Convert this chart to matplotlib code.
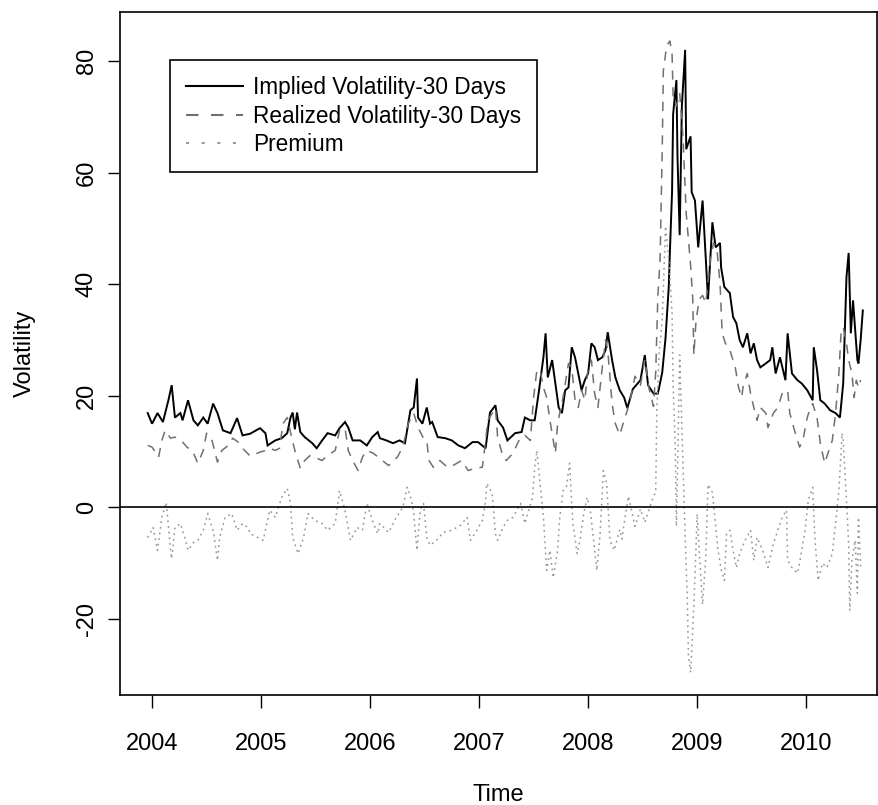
import matplotlib
matplotlib.use("Agg")
import matplotlib.pyplot as plt
from matplotlib.lines import Line2D

plt.rcParams['font.family'] = ['Liberation Sans', 'DejaVu Sans']

# implied volatility (30 days)
iv_t = [2003.96, 2004.00, 2004.05, 2004.10, 2004.15, 2004.18, 2004.21, 2004.26, 2004.28, 2004.33,
        2004.38, 2004.42, 2004.47, 2004.51, 2004.56, 2004.60, 2004.65, 2004.72, 2004.78, 2004.83,
        2004.90, 2004.99, 2005.04, 2005.06, 2005.13, 2005.19, 2005.24, 2005.27, 2005.29, 2005.31,
        2005.33, 2005.36, 2005.40, 2005.47, 2005.51, 2005.56, 2005.61, 2005.68, 2005.72, 2005.77,
        2005.80, 2005.84, 2005.91, 2005.97, 2006.02, 2006.07, 2006.09, 2006.15, 2006.21, 2006.27,
        2006.32, 2006.37, 2006.40, 2006.43, 2006.44, 2006.48, 2006.52, 2006.55, 2006.57, 2006.62,
        2006.69, 2006.75, 2006.81, 2006.87, 2006.94, 2006.99, 2007.06, 2007.10, 2007.15, 2007.17,
        2007.22, 2007.26, 2007.33, 2007.39, 2007.42, 2007.47, 2007.51, 2007.55, 2007.59, 2007.61,
        2007.63, 2007.67, 2007.70, 2007.73, 2007.76, 2007.79, 2007.82, 2007.85, 2007.88, 2007.91,
        2007.94, 2007.97, 2008.00, 2008.03, 2008.06, 2008.09, 2008.13, 2008.16, 2008.18, 2008.22,
        2008.25, 2008.29, 2008.33, 2008.36, 2008.41, 2008.48, 2008.52, 2008.55, 2008.60, 2008.64,
        2008.68, 2008.71, 2008.74, 2008.75, 2008.77, 2008.78, 2008.81, 2008.82, 2008.84, 2008.86,
        2008.89, 2008.90, 2008.94, 2008.95, 2008.98, 2009.01, 2009.05, 2009.08, 2009.10, 2009.14,
        2009.17, 2009.21, 2009.22, 2009.25, 2009.30, 2009.33, 2009.36, 2009.39, 2009.42, 2009.46,
        2009.49, 2009.52, 2009.55, 2009.58, 2009.63, 2009.67, 2009.69, 2009.72, 2009.76, 2009.81,
        2009.83, 2009.87, 2009.92, 2009.96, 2010.01, 2010.06, 2010.07, 2010.10, 2010.13, 2010.17,
        2010.22, 2010.27, 2010.31, 2010.34, 2010.36, 2010.37, 2010.39, 2010.41, 2010.43, 2010.47,
        2010.48, 2010.50, 2010.52]
iv = [16.9, 15.0, 16.9, 15.3, 19.2, 21.9, 16.1, 16.9, 15.6, 19.2,
      15.6, 14.7, 16.1, 15.0, 18.6, 16.9, 13.8, 13.3, 16.0, 12.9,
      13.2, 14.2, 13.3, 11.1, 12.0, 12.4, 13.3, 16.1, 17.0, 14.0,
      17.0, 13.5, 12.6, 11.5, 10.6, 12.0, 13.3, 12.9, 14.2, 15.3,
      14.3, 12.0, 12.0, 11.1, 12.6, 13.5, 12.4, 12.0, 11.5, 12.0,
      11.5, 17.4, 17.9, 23.1, 16.1, 15.0, 17.9, 15.0, 15.3, 12.6,
      12.4, 12.0, 11.1, 10.6, 11.7, 11.7, 10.6, 17.0, 18.3, 15.6,
      14.3, 12.0, 13.3, 13.5, 16.1, 15.6, 15.6, 21.0, 26.9, 31.2,
      23.3, 26.4, 22.2, 17.9, 16.9, 21.0, 21.5, 28.7, 26.9, 24.0,
      21.0, 22.8, 24.0, 29.4, 28.7, 26.4, 26.9, 28.2, 31.4, 26.4,
      23.3, 21.0, 19.7, 17.8, 21.2, 22.8, 27.3, 21.9, 20.4, 20.4,
      24.2, 30.3, 39.6, 45.7, 56.5, 70.5, 76.6, 62.8, 48.8, 71.9,
      82.0, 64.2, 66.5, 56.5, 55.0, 46.6, 55.0, 44.3, 37.3, 51.1,
      46.6, 47.4, 43.0, 39.5, 38.4, 34.1, 33.0, 30.0, 28.7, 31.2,
      27.6, 29.4, 26.4, 25.1, 25.8, 26.4, 28.7, 24.0, 26.9, 22.8,
      31.2, 24.0, 22.8, 22.2, 21.0, 19.2, 28.7, 24.6, 19.2, 18.6,
      17.4, 16.9, 16.1, 22.2, 34.8, 41.3, 45.6, 31.2, 37.1, 26.4,
      25.8, 30.0, 35.3]

# realized volatility (30 days)
rv_t = [2003.96, 2004.00, 2004.06, 2004.09, 2004.12, 2004.17, 2004.21, 2004.28, 2004.32, 2004.37,
        2004.42, 2004.47, 2004.50, 2004.55, 2004.60, 2004.64, 2004.70, 2004.74, 2004.79, 2004.83,
        2004.90, 2004.99, 2005.04, 2005.08, 2005.13, 2005.17, 2005.20, 2005.24, 2005.28, 2005.31,
        2005.36, 2005.40, 2005.45, 2005.49, 2005.56, 2005.61, 2005.68, 2005.72, 2005.77, 2005.80,
        2005.84, 2005.89, 2005.93, 2005.97, 2006.03, 2006.10, 2006.17, 2006.25, 2006.30, 2006.35,
        2006.40, 2006.44, 2006.49, 2006.52, 2006.54, 2006.58, 2006.64, 2006.71, 2006.76, 2006.84,
        2006.90, 2006.96, 2007.03, 2007.06, 2007.08, 2007.15, 2007.17, 2007.22, 2007.25, 2007.31,
        2007.38, 2007.42, 2007.47, 2007.50, 2007.53, 2007.56, 2007.59, 2007.62, 2007.65, 2007.70,
        2007.72, 2007.77, 2007.82, 2007.85, 2007.88, 2007.91, 2007.94, 2007.97, 2008.00, 2008.03,
        2008.06, 2008.09, 2008.13, 2008.16, 2008.18, 2008.22, 2008.25, 2008.29, 2008.33, 2008.36,
        2008.39, 2008.43, 2008.48, 2008.52, 2008.56, 2008.60, 2008.62, 2008.64, 2008.66, 2008.68,
        2008.69, 2008.72, 2008.75, 2008.77, 2008.78, 2008.81, 2008.84, 2008.87, 2008.90, 2008.94,
        2008.96, 2008.97, 2008.99, 2009.02, 2009.05, 2009.08, 2009.12, 2009.15, 2009.18, 2009.21,
        2009.23, 2009.26, 2009.30, 2009.35, 2009.38, 2009.41, 2009.42, 2009.46, 2009.49, 2009.52,
        2009.55, 2009.58, 2009.63, 2009.65, 2009.70, 2009.74, 2009.78, 2009.83, 2009.85, 2009.90,
        2009.94, 2009.97, 2010.01, 2010.04, 2010.06, 2010.10, 2010.13, 2010.17, 2010.20, 2010.24,
        2010.27, 2010.30, 2010.32, 2010.34, 2010.37, 2010.39, 2010.42, 2010.44, 2010.46, 2010.48,
        2010.50]
rv = [11.1, 10.8, 9.0, 12.0, 13.8, 12.4, 12.6, 11.7, 10.8, 10.2,
      7.9, 10.2, 13.3, 12.0, 8.1, 10.2, 11.1, 12.4, 11.7, 10.6,
      9.2, 9.9, 10.2, 10.6, 10.2, 10.6, 15.0, 16.1, 12.6, 10.2,
      7.0, 8.4, 9.3, 9.0, 8.4, 9.3, 10.2, 13.8, 14.2, 10.2,
      8.4, 6.6, 9.0, 10.2, 9.7, 8.6, 7.5, 9.0, 10.8, 15.0,
      16.9, 14.3, 12.4, 12.0, 8.4, 7.2, 8.4, 7.2, 7.5, 8.4,
      6.6, 7.0, 7.2, 12.0, 15.6, 17.8, 12.6, 9.0, 8.4, 9.7,
      12.6, 12.9, 12.0, 19.7, 24.6, 24.6, 21.5, 19.7, 15.6, 9.7,
      15.0, 19.7, 25.8, 25.1, 19.2, 17.9, 21.0, 19.2, 25.1, 26.4,
      20.4, 17.9, 25.1, 30.0, 28.2, 18.6, 15.0, 13.0, 15.6, 17.4,
      19.6, 23.5, 21.9, 26.5, 21.2, 18.1, 24.2, 38.0, 44.3, 64.2,
      78.2, 82.7, 83.6, 81.3, 73.5, 71.9, 74.3, 66.5, 52.7, 43.4,
      37.3, 27.3, 33.5, 37.3, 38.0, 36.6, 44.3, 47.4, 46.6, 40.2,
      31.2, 29.4, 28.2, 25.1, 21.5, 19.7, 21.5, 24.0, 20.4, 17.9,
      15.6, 17.9, 16.9, 14.3, 16.9, 17.9, 20.4, 21.0, 16.9, 13.3,
      10.8, 12.0, 16.1, 17.9, 18.6, 16.1, 11.5, 7.9, 9.7, 12.0,
      16.9, 24.0, 31.2, 32.3, 29.4, 26.4, 24.0, 19.7, 22.8, 21.5,
      22.8]

# volatility premium
pr_t = [2003.96, 2004.01, 2004.05, 2004.09, 2004.13, 2004.17, 2004.18, 2004.21, 2004.26, 2004.30,
        2004.33, 2004.38, 2004.42, 2004.47, 2004.51, 2004.56, 2004.60, 2004.62, 2004.67, 2004.73,
        2004.78, 2004.83, 2004.88, 2004.90, 2005.02, 2005.08, 2005.13, 2005.19, 2005.24, 2005.27,
        2005.29, 2005.34, 2005.39, 2005.43, 2005.49, 2005.56, 2005.61, 2005.68, 2005.72, 2005.77,
        2005.82, 2005.88, 2005.93, 2005.97, 2006.02, 2006.07, 2006.09, 2006.17, 2006.24, 2006.30,
        2006.34, 2006.38, 2006.40, 2006.43, 2006.46, 2006.49, 2006.52, 2006.55, 2006.61, 2006.67,
        2006.75, 2006.83, 2006.89, 2006.92, 2006.98, 2007.03, 2007.06, 2007.07, 2007.12, 2007.15,
        2007.17, 2007.22, 2007.26, 2007.31, 2007.38, 2007.42, 2007.49, 2007.51, 2007.53, 2007.56,
        2007.59, 2007.62, 2007.65, 2007.68, 2007.72, 2007.74, 2007.77, 2007.80, 2007.83, 2007.86,
        2007.90, 2007.93, 2007.96, 2007.99, 2008.02, 2008.05, 2008.08, 2008.11, 2008.14, 2008.17,
        2008.20, 2008.24, 2008.29, 2008.31, 2008.33, 2008.37, 2008.43, 2008.48, 2008.52, 2008.56,
        2008.60, 2008.62, 2008.63, 2008.65, 2008.68, 2008.71, 2008.74, 2008.77, 2008.78, 2008.80,
        2008.81, 2008.82, 2008.84, 2008.86, 2008.89, 2008.91, 2008.92, 2008.94, 2008.96, 2008.98,
        2009.00, 2009.02, 2009.05, 2009.08, 2009.10, 2009.14, 2009.17, 2009.19, 2009.22, 2009.25,
        2009.27, 2009.30, 2009.33, 2009.36, 2009.39, 2009.44, 2009.49, 2009.52, 2009.55, 2009.60,
        2009.65, 2009.70, 2009.74, 2009.78, 2009.82, 2009.83, 2009.87, 2009.92, 2009.94, 2009.99,
        2010.02, 2010.06, 2010.08, 2010.11, 2010.15, 2010.19, 2010.24, 2010.27, 2010.30, 2010.33,
        2010.34, 2010.37, 2010.39, 2010.40, 2010.42, 2010.45, 2010.47, 2010.48, 2010.50]
pr = [-5.4, -3.6, -7.7, -1.8, 0.9, -7.7, -9.2, -3.6, -2.9, -5.4,
      -7.7, -6.3, -5.9, -4.1, -1.1, -4.1, -9.5, -5.4, -1.8, -1.1,
      -4.1, -2.9, -3.6, -4.7, -5.9, -0.5, -1.8, 1.8, 3.4, 0.7,
      -5.4, -8.3, -5.4, -1.1, -2.3, -2.9, -4.1, -2.9, 3.0, -0.5,
      -5.9, -3.6, -4.1, 0.7, -2.3, -4.7, -2.9, -4.5, -1.8, 0.0,
      3.6, 1.3, -1.1, -7.7, -0.5, 0.7, -5.4, -6.8, -5.9, -4.5,
      -4.1, -3.2, -1.8, -5.9, -4.1, -2.3, 1.3, 4.3, 2.5, -4.7,
      -5.9, -3.6, -2.3, -1.8, 0.7, -2.9, 1.8, 7.2, 10.2, 4.3,
      -1.8, -11.3, -7.7, -12.6, -7.7, -1.8, 3.0, 3.6, 7.9, -2.9,
      -8.3, -5.4, -1.1, 1.8, -0.5, -5.9, -11.3, -4.7, 6.6, 4.3,
      -5.9, -7.7, -4.0, -5.7, -2.9, 2.0, -3.4, -0.3, -2.7, -0.3,
      2.0, 2.7, 17.2, 27.3, 33.5, 50.4, 44.3, 35.0, 21.9, 10.4,
      -3.4, 6.5, 27.3, 14.2, -5.0, -16.5, -26.5, -29.6, -21.9, -12.7,
      -1.2, -8.1, -17.4, -8.8, 4.1, 2.7, -3.4, -7.4, -11.1, -13.1,
      -4.7, -4.1, -7.7, -10.8, -8.3, -5.9, -4.1, -9.5, -5.4, -7.7,
      -10.8, -6.5, -4.1, -1.8, -0.5, -9.5, -10.8, -11.8, -10.0, -4.1,
      1.3, 3.6, -5.4, -13.1, -10.0, -10.8, -8.3, -2.9, 3.0, 13.3,
      12.0, 1.3, -6.5, -18.5, -9.5, -5.9, -15.4, -1.8, -10.8]

labels = ['Implied Volatility-30 Days', 'Realized Volatility-30 Days', 'Premium']
years = [2004, 2005, 2006, 2007, 2008, 2009, 2010]
yticks = [-20, 0, 20, 40, 60, 80]

W, H = 879, 805
fig = plt.figure(figsize=(W / 100, H / 100), dpi=100)
ax = fig.add_axes([120 / W, (H - 695) / H, (877 - 120) / W, (695 - 12) / H])

dash_style = (0, (6, 5))
dot_style = (0, (1.2, 2.5))

ax.plot(iv_t, iv, color='black', lw=1.4, solid_joinstyle='miter')
ax.plot(rv_t, rv, color='#707070', lw=1.1, linestyle=dash_style)
ax.plot(pr_t, pr, color='#999999', lw=1.1, linestyle=dot_style)
ax.axhline(0, color='black', lw=1.2)

ax.set_xlim(2003.706, 2010.65)
ax.set_ylim(-33.63, 88.79)
ax.set_xticks(years)
ax.set_xticklabels([str(y) for y in years])
ax.set_yticks(yticks)
ax.set_yticklabels([str(v) for v in yticks], rotation=90, va='center')
ax.tick_params(direction='out', length=9, width=1, labelsize=17)
ax.tick_params(axis='x', pad=18)
ax.tick_params(axis='y', pad=7)
for s in ax.spines.values():
    s.set_linewidth(1.2)

ax.set_xlabel('Time', fontsize=17, labelpad=21)
ax.set_ylabel('Volatility', fontsize=17, labelpad=29)

handles = [Line2D([], [], color='black', lw=1.5),
           Line2D([], [], color='#707070', lw=1.5, linestyle=(0, (6, 6))),
           Line2D([], [], color='#999999', lw=1.5, linestyle=(0, (1.5, 6)))]
leg = ax.legend(handles, labels, loc='upper left', bbox_to_anchor=(0.066, 0.930),
                borderaxespad=0, fontsize=16.3, frameon=True, fancybox=False,
                edgecolor='black', framealpha=1, handlelength=2.5, handletextpad=0.45,
                labelspacing=0.24, borderpad=0.72)
leg.get_frame().set_linewidth(1.2)

fig.savefig('out.png', dpi=100)
